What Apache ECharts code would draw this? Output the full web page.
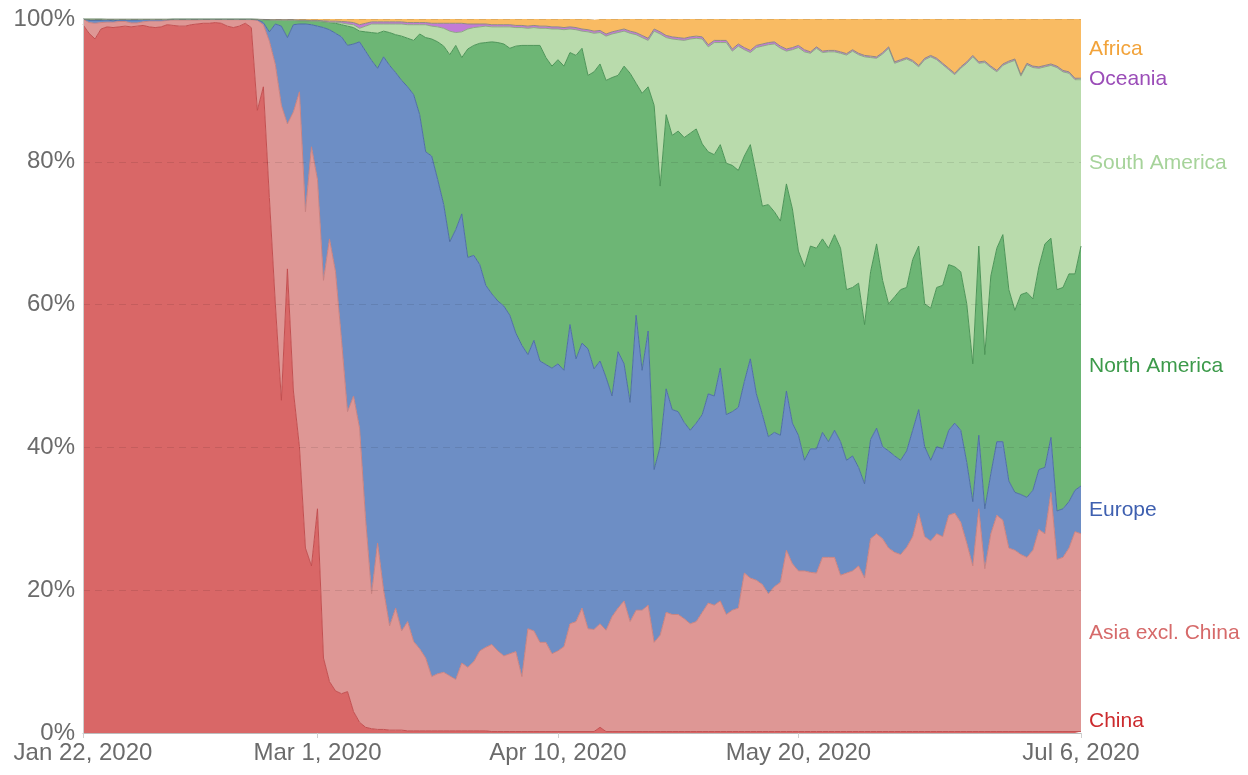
<!DOCTYPE html>
<html>
<head>
<meta charset="utf-8">
<script src="https://cdn.jsdelivr.net/npm/echarts@6/dist/echarts.min.js"></script>
<style>
  html, body { margin: 0; padding: 0; background: #ffffff; }
  #chart { width: 1248px; height: 775px; }
</style>
</head>
<body>
<div id="chart"></div>
<script>
// ---------- data (share of daily cases, %) ----------
const START_DATE = '2020-01-22';
const DAY_COUNT = 167;
const TICK_INDEX = [0, 39, 79, 119, 166];   // Jan 22, Mar 1, Apr 10, May 20, Jul 6
const Y_TICKS = [0, 20, 40, 60, 80, 100];

const CHINA = [99.2, 98.0, 97.2, 98.6, 98.9, 98.8, 98.9, 99.0, 98.9, 99.0, 99.1, 98.9, 98.8, 98.9, 99.2, 99.1, 99.0, 99.0, 99.2, 99.3, 99.4, 99.4, 99.5, 99.4, 99.0, 98.8, 99.0, 99.4, 98.8,
  87.2, 90.5, 75, 60, 46.6, 65, 47.9, 40.1, 25.9, 23.4, 31.4, 10.5, 7.2, 5.9, 5.5, 5.8, 3.0, 1.5, 0.8, 0.6, 0.5, 0.5, 0.4, 0.4, 0.4, 0.3, 0.3, 0.3, 0.3, 0.3,
  0.3, 0.3, 0.3, 0.3, 0.3, 0.3, 0.3, 0.3, 0.3, 0.2, 0.2, 0.2, 0.2, 0.2, 0.2, 0.2, 0.2, 0.2, 0.2, 0.2, 0.2, 0.2, 0.2, 0.2, 0.2, 0.2, 0.2, 0.8,
  0.2, 0.2, 0.2, 0.2, 0.2, 0.2, 0.2, 0.2, 0.2, 0.2, 0.2, 0.2, 0.2, 0.2, 0.2, 0.2, 0.2, 0.2, 0.2, 0.2, 0.2, 0.2, 0.2, 0.2, 0.2, 0.2, 0.2, 0.2, 0.2, 0.2, 0.2, 0.2, 0.2, 0.2,
  0.2, 0.2, 0.2, 0.2, 0.2, 0.2, 0.2, 0.2, 0.2, 0.2, 0.2, 0.2, 0.2, 0.2, 0.2, 0.2, 0.2, 0.2, 0.2, 0.2, 0.2, 0.2, 0.2, 0.2, 0.2, 0.2, 0.2, 0.2, 0.2, 0.2, 0.2, 0.2, 0.2, 0.2, 0.2, 0.2, 0.2, 0.2, 0.2, 0.2, 0.2, 0.2, 0.2, 0.2, 0.2, 0.2];

const ASIA = [0.8, 1.5, 2.2, 0.9, 0.65, 0.75, 0.75, 0.65, 0.55, 0.45, 0.5, 0.8, 0.9, 0.8, 0.6, 0.75, 0.85, 0.85, 0.65, 0.55, 0.5, 0.5, 0.4, 0.5, 0.9, 1.1, 0.9, 0.5, 1.1,
  12.6, 8.7, 21.9, 33.6, 41.3, 20.3, 39.1, 49.7, 47.1, 58.7, 46.1, 52.9, 62.0, 58.7, 49.5, 39.2, 44.2, 41.2, 29.2, 18.9, 26.1, 19.5, 14.6, 17.1, 13.9, 15.3, 12.5, 11.5, 10.2, 7.6,
  8.0, 8.2, 7.7, 7.2, 9.5, 8.9, 9.7, 11.2, 11.7, 12.2, 11.3, 10.6, 10.9, 11.2, 7.7, 14.4, 14.1, 12.5, 12.5, 10.9, 11.3, 11.9, 15.1, 15.4, 17.3, 14.4, 14.3, 14.5,
  14.2, 16.1, 17.3, 18.3, 15.4, 17.0, 17.0, 17.7, 12.5, 13.5, 16.7, 16.4, 16.4, 15.8, 15.1, 15.4, 16.7, 18.0, 17.7, 18.3, 16.4, 17.0, 17.3, 22.2, 21.5, 21.2, 20.6, 19.3, 20.3, 20.9, 25.4, 23.5, 22.5, 22.5,
  22.3, 22.2, 24.4, 24.4, 24.4, 21.9, 22.2, 22.5, 23.2, 21.5, 27.0, 27.7, 27.0, 25.7, 25.1, 24.8, 25.8, 27.3, 30.6, 27.3, 26.7, 27.7, 27.3, 30.3, 30.6, 29.3, 26.4, 23.2, 31.2, 22.8, 27.7, 30.3, 29.6, 25.7, 25.4, 24.8, 24.4, 25.4, 28.3, 27.7, 33.5, 24.1, 24.4, 25.7, 28.0, 27.7];

const EUROPE = [0, 0.3, 0.4, 0.3, 0.3, 0.2, 0.2, 0.2, 0.4, 0.4, 0.3, 0.2, 0.2, 0.2, 0.1, 0.1, 0.1, 0.1, 0.1, 0.1, 0.05, 0.05, 0.05, 0.05, 0.05, 0.05, 0.05, 0.05, 0.05,
  0.1, 0.3, 1.3, 5.7, 11.1, 12.1, 12.2, 9.5, 26.3, 17.1, 21.5, 35.4, 29.3, 33.4, 42.5, 51.3, 49.3, 54.1, 65.5, 74.7, 66.5, 74.7, 78.5, 75.0, 77.1, 74.9, 76.6, 74.8, 70.9, 72.9,
  69.2, 65.5, 60.8, 63.0, 62.9, 57.4, 56.9, 54.1, 50.7, 49.1, 49.0, 49.0, 47.4, 44.6, 46.4, 38.4, 40.7, 39.4, 38.9, 40.0, 40.2, 38.7, 41.9, 36.8, 37.1, 39.2, 36.5, 36.8,
  35.4, 30.9, 35.9, 33.2, 30.7, 41.3, 33.6, 38.4, 24.2, 26.4, 31.3, 28.7, 28.4, 27.5, 27.1, 27.8, 27.7, 29.3, 29.3, 32.6, 28.0, 27.8, 28.1, 26.8, 30.7, 26.1, 23.8, 22.0, 21.6, 20.6, 22.3, 19.7, 19.0, 15.5,
  17.3, 17.4, 17.5, 16.2, 17.8, 18.7, 15.8, 16.1, 13.8, 13.2, 13.9, 14.8, 12.9, 13.6, 13.5, 13.2, 13.5, 14.9, 14.5, 12.6, 11.3, 12.2, 12.3, 11.9, 12.6, 12.9, 11.3, 9.0, 10.3, 8.4, 8.4, 10.3, 11.0, 9.4, 8.1, 8.4, 8.4, 8.4, 8.4, 9.3, 7.7, 6.8, 6.8, 6.5, 5.8, 6.7];

const NORTH_AMERICA = [0, 0.2, 0.2, 0.2, 0.1, 0.2, 0.1, 0.1, 0.1, 0.1, 0.05, 0.05, 0.05, 0.05, 0.05, 0.05, 0.05, 0.05, 0.05, 0.05, 0.05, 0.05, 0.05, 0.05, 0.05, 0.05, 0.05, 0.05, 0.05,
  0.05, 0.4, 1.65, 0.5, 0.8, 2.4, 0.6, 0.45, 0.45, 0.5, 0.7, 0.8, 1.0, 1.4, 1.7, 2.7, 2.3, 1.5, 2.7, 3.9, 4.9, 3.6, 4.6, 5.3, 6.2, 6.8, 7.6, 11.3, 16.0, 16.4,
  19.3, 22.2, 26.2, 25.8, 21.9, 29.2, 29.4, 31.0, 34.0, 35.3, 36.2, 36.7, 37.4, 40.2, 42.0, 43.3, 41.3, 44.2, 43.0, 42.3, 42.6, 42.6, 38.1, 42.5, 41.3, 38.3, 41.6, 41.6,
  41.6, 44.6, 38.7, 41.7, 46.1, 32.5, 38.8, 34.2, 51.0, 36.5, 38.4, 38.4, 39.3, 39.9, 41.6, 41.2, 37.9, 33.9, 33.8, 31.3, 35.2, 34.5, 33.2, 31.6, 30.0, 30.7, 29.2, 32.5, 30.9, 30.0, 29.0, 30.0, 25.8, 27.1,
  28.4, 28.1, 27.1, 27.1, 27.4, 27.1, 23.9, 23.6, 25.8, 22.3, 23.5, 25.8, 23.3, 20.6, 22.3, 23.9, 22.9, 23.9, 22.9, 20.0, 21.3, 22.3, 22.9, 23.2, 21.9, 22.2, 22.2, 19.3, 26.5, 21.6, 27.7, 27.1, 29.0, 26.8, 25.5, 28.0, 28.7, 26.8, 28.4, 31.3, 27.9, 31.0, 31.0, 31.9, 30.3, 33.6];

const SOUTH_AMERICA = [0, 0, 0, 0, 0, 0, 0, 0, 0, 0, 0, 0, 0, 0, 0, 0, 0, 0, 0, 0, 0, 0, 0, 0, 0, 0, 0, 0, 0,
  0, 0, 0, 0, 0, 0, 0, 0, 0, 0, 0, 0, 0,
  0.1, 0.25, 0.3, 0.4, 0.4, 0.8, 1.2, 1.3, 1.0, 1.2, 1.5, 1.7, 1.9, 2.2, 1.3, 1.8, 1.8,
  2.1, 2.5, 3.3, 1.8, 3.6, 2.8, 2.5, 2.3, 2.3, 2.1, 2.2, 2.4, 3.0, 2.6, 2.5, 2.4, 2.5, 2.4, 4.1, 5.2, 4.3, 5.1, 3.3, 3.6, 2.4, 6.1, 5.4, 4.4,
  6.2, 6.1, 6.0, 4.9, 5.6, 6.8, 7.8, 6.5, 10.4, 21.3, 10.8, 13.5, 12.8, 13.6, 13.2, 12.7, 14.7, 14.7, 15.7, 14.3, 16.9, 16.0, 17.4, 14.9, 12.9, 17.8, 22.4, 22.4, 23.5, 24.2, 18.6, 22.3, 28.5, 30.1,
  27.0, 28.0, 26.1, 27.5, 25.6, 27.3, 32.85, 33.1, 32.0, 37.5, 30.0, 26.0, 31.7, 35.8, 32.7, 32.0, 32.0, 27.7, 25.1, 34.2, 35.2, 31.9, 30.9, 27.3, 26.9, 28.5, 33.7, 43.0, 25.6, 40.9, 29.2, 24.7, 23.7, 31.8, 35.0, 30.6, 31.9, 32.4, 27.8, 24.8, 24.2, 31.1, 30.2, 28.1, 27.2, 23.3];

const OCEANIA = [0, 0, 0, 0, 0.05, 0.05, 0.05, 0.05, 0.05, 0.05, 0.05, 0.05, 0.05, 0.05, 0.05, 0, 0, 0, 0, 0, 0, 0, 0, 0, 0, 0, 0, 0, 0,
  0.05, 0.05, 0.05, 0.1, 0.1, 0.1, 0.1, 0.1, 0.1, 0.1, 0.1, 0.15, 0.2, 0.2, 0.2, 0.3, 0.3, 0.5, 0.4, 0.3, 0.3, 0.3, 0.3, 0.3, 0.3, 0.3, 0.3, 0.3, 0.3,
  0.4, 0.5, 0.7, 1.1, 1.3, 1.2, 0.7, 0.5, 0.4,
  0.3, 0.3, 0.3, 0.3, 0.3, 0.3, 0.3, 0.3, 0.3, 0.3, 0.3, 0.3, 0.3, 0.3, 0.3, 0.3, 0.3, 0.3, 0.3, 0.3, 0.3, 0.3, 0.3, 0.3, 0.3, 0.3, 0.3,
  0.3, 0.3, 0.3, 0.3, 0.3, 0.3, 0.3, 0.3, 0.3, 0.3, 0.3, 0.3, 0.3, 0.3, 0.3, 0.3, 0.3, 0.3, 0.3, 0.3, 0.3, 0.3, 0.3, 0.3, 0.3, 0.3, 0.3,
  0.2, 0.2, 0.2, 0.2, 0.2, 0.2, 0.2, 0.2, 0.2, 0.2, 0.2, 0.2, 0.2, 0.2, 0.2, 0.2, 0.2, 0.2, 0.2, 0.2, 0.2, 0.2, 0.2, 0.2, 0.2, 0.2, 0.2, 0.2, 0.2, 0.2, 0.2, 0.2, 0.2, 0.2, 0.2, 0.2, 0.2, 0.2, 0.2, 0.2, 0.2, 0.2, 0.2, 0.2, 0.2, 0.2];

const AFRICA = [0, 0, 0, 0, 0, 0, 0, 0, 0, 0, 0, 0, 0, 0, 0, 0, 0, 0, 0, 0, 0, 0, 0, 0, 0, 0, 0, 0, 0,
  0, 0.05, 0.1, 0.1, 0.1, 0.1, 0.1, 0.15, 0.15, 0.2, 0.2, 0.25, 0.3, 0.3, 0.35, 0.4, 0.5, 0.8, 0.6, 0.4, 0.4, 0.4, 0.4, 0.4, 0.4, 0.5, 0.5, 0.5, 0.5,
  0.6, 0.6, 0.6, 0.6, 0.6, 0.6, 0.7, 0.7, 0.7, 0.7, 0.8, 0.8, 0.8, 0.8, 0.9, 0.9, 1.0, 0.9, 1.0, 1.0, 1.1, 1.1, 1.2, 1.1, 1.2, 1.4, 1.5, 1.6, 1.6,
  2.1, 1.8, 1.6, 1.4, 1.7, 1.9, 2.3, 2.7, 1.4, 1.8, 2.3, 2.5, 2.6, 2.7, 2.5, 2.4, 2.5, 3.6, 3.0, 3.0, 3.0, 4.2, 3.5, 4.0, 4.4, 3.7, 3.5, 3.3, 3.2, 3.8, 4.2, 4.0, 3.7, 4.3,
  4.6, 3.9, 4.5, 4.4, 4.4, 4.6, 4.85, 4.3, 4.8, 5.1, 5.2, 5.3, 4.7, 3.9, 6.0, 5.7, 5.4, 5.8, 6.5, 5.5, 5.1, 5.5, 6.2, 6.9, 7.6, 6.7, 6.0, 5.1, 6.0, 5.9, 6.6, 7.2, 6.3, 5.9, 5.6, 7.8, 6.2, 6.6, 6.7, 6.5, 6.3, 6.6, 7.2, 7.4, 8.3, 8.3];

const SERIES_NAMES = ['China', 'Asia excl. China', 'Europe', 'North America', 'South America', 'Oceania', 'Africa'];
const SERIES_DATA = [CHINA, ASIA, EUROPE, NORTH_AMERICA, SOUTH_AMERICA, OCEANIA, AFRICA];
const AREA_COLORS = ['#d96767', '#de9795', '#6d8ec5', '#6db675', '#b9dbac', '#c27bd6', '#f9bb63'];
const LINE_COLORS = ['#c24f50', '#c98381', '#4f6ea6', '#4c9457', '#8ea886', '#8f8a84', 'rgba(0,0,0,0)'];
const LABEL_COLORS = ['#cc2b2e', '#d66a6a', '#3f60b0', '#3c9a4a', '#a6d39a', '#9b4db8', '#f2a33a'];

// ---------- categories ----------
const MONTHS = ['Jan','Feb','Mar','Apr','May','Jun','Jul','Aug','Sep','Oct','Nov','Dec'];
const CATEGORIES = [];
(function () {
  const d0 = new Date(START_DATE + 'T00:00:00Z');
  for (let i = 0; i < DAY_COUNT; i++) {
    const d = new Date(d0.getTime() + i * 86400000);
    CATEGORIES.push(MONTHS[d.getUTCMonth()] + ' ' + d.getUTCDate() + ', ' + d.getUTCFullYear());
  }
})();

const FONT = "'Liberation Sans', Arial, Helvetica, sans-serif";
const chart = echarts.init(document.getElementById('chart'), null, { renderer: 'canvas' });
const showTick = (idx) => TICK_INDEX.indexOf(idx) >= 0;

const option = {
  animation: false,
  backgroundColor: '#ffffff',
  grid: { left: 83, right: 167, top: 19, bottom: 42, containLabel: false },
  xAxis: {
    type: 'category',
    data: CATEGORIES,
    boundaryGap: false,
    z: 5,
    axisLine: { show: true, lineStyle: { color: '#bdbdbd', width: 1 } },
    axisTick: { show: true, interval: showTick, length: 5, lineStyle: { color: '#cfcfcf' } },
    axisLabel: {
      interval: showTick, color: '#6b6b6b', fontSize: 24, fontFamily: FONT, margin: 8,
      hideOverlap: false
    },
    splitLine: { show: false }
  },
  yAxis: {
    type: 'value',
    min: 0, max: 100, interval: 20,
    z: 5,
    axisLine: { show: true, lineStyle: { color: '#cfcfcf' } },
    axisTick: { show: false },
    axisLabel: {
      color: '#6b6b6b', fontSize: 24, fontFamily: FONT, margin: 8,
      formatter: (v) => (Y_TICKS.indexOf(v) >= 0 ? v + '%' : '')
    },
    splitLine: { show: true, lineStyle: { color: 'rgba(0,0,0,0.09)', type: [7, 5], width: 1 } }
  },
  series: SERIES_DATA.map((arr, i) => ({
    name: SERIES_NAMES[i],
    type: 'line',
    stack: 'share',
    data: arr,
    symbol: 'none',
    smooth: false,
    z: 2,
    lineStyle: { color: LINE_COLORS[i], width: i === 6 ? 0 : 1 },
    areaStyle: { color: AREA_COLORS[i], opacity: 1 },
    emphasis: { disabled: true }
  }))
};
chart.setOption(option);

// ---------- right-hand labels placed at the middle of each band at the last day ----------
const last = CATEGORIES.length - 1;
let cum = 0;
const labels = [];
SERIES_DATA.forEach((arr, i) => {
  const v = arr[last];
  const mid = cum + v / 2;
  cum += v;
  const p = chart.convertToPixel({ gridIndex: 0 }, [last, mid]);
  const y = p[1] > 700 ? 721 : p[1];
  labels.push({
    type: 'text',
    left: p[0] + 8,
    top: y - 10,
    style: { text: SERIES_NAMES[i], fill: LABEL_COLORS[i], fontSize: 21, fontFamily: FONT }
  });
});
chart.setOption({ graphic: labels });
</script>
</body>
</html>
